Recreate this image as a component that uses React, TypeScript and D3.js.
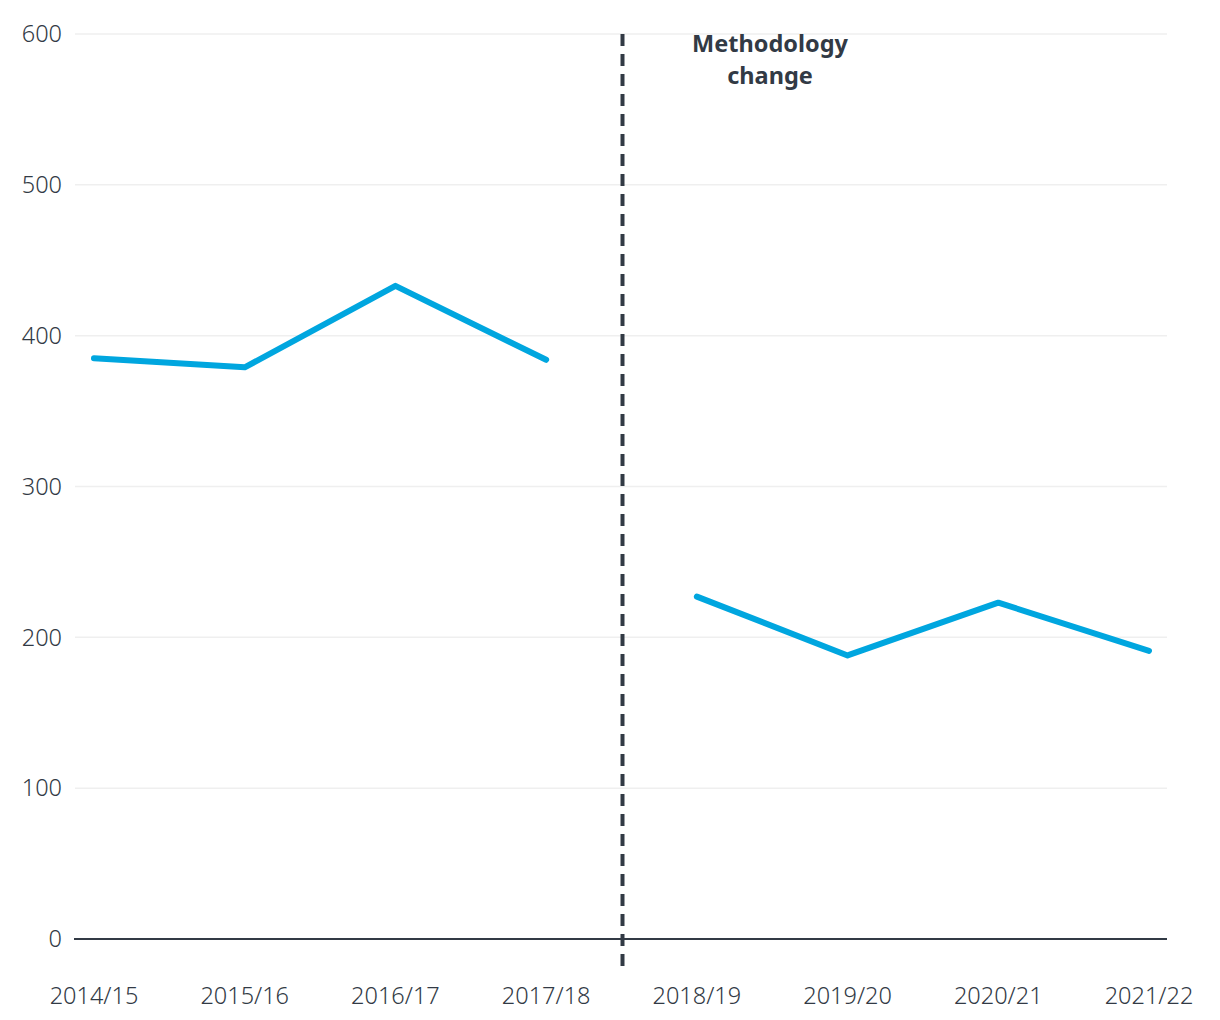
import React from "react";
import * as d3 from "d3";

const categories = ["2014/15", "2015/16", "2016/17", "2017/18", "2018/19", "2019/20", "2020/21", "2021/22"];
const beforeValues = [385, 379, 433, 384];
const afterValues = [227, 188, 223, 191];
const yTicks = [0, 100, 200, 300, 400, 500, 600];
const annotationLines = ["Methodology", "change"];

const W = 1220;
const H = 1020;
const FONT = "'Noto Sans', 'Open Sans', sans-serif";
const TEXT = "#323a45";

export default function App() {
  const x = d3.scalePoint<string>().domain(categories).range([94, 1149]);
  const y = d3.scaleLinear().domain([0, 600]).range([939, 34]);
  const line = d3
    .line<[string, number]>()
    .x((d) => x(d[0]) as number)
    .y((d) => y(d[1]));
  const before: [string, number][] = beforeValues.map((v, i) => [categories[i], v]);
  const after: [string, number][] = afterValues.map((v, i) => [categories[i + 4], v]);
  const breakX = ((x(categories[3]) as number) + (x(categories[4]) as number)) / 2 + 1;

  return (
    <svg width={W} height={H} style={{ position: "absolute", left: 0, top: 0, background: "#fff" }} fontFamily={FONT}>
      {yTicks.map((t) => (
        <g key={t}>
          {t !== 0 && <line x1={75} x2={1167} y1={y(t)} y2={y(t)} stroke="#efefef" strokeWidth={1.5} />}
          <text x={62} y={y(t)} dy="0.35em" textAnchor="end" fontSize={23.5} fontWeight={300} fill={TEXT}>
            {t}
          </text>
        </g>
      ))}
      <line x1={74} x2={1167} y1={y(0)} y2={y(0)} stroke={TEXT} strokeWidth={2} />
      <path d={line(before) || ""} fill="none" stroke="#00a6df" strokeWidth={6} strokeLinecap="round" strokeLinejoin="round" />
      <path d={line(after) || ""} fill="none" stroke="#00a6df" strokeWidth={6} strokeLinecap="round" strokeLinejoin="round" />
      <line x1={breakX} x2={breakX} y1={34} y2={970} stroke={TEXT} strokeWidth={4} strokeDasharray="12 8" />
      {annotationLines.map((s, i) => (
        <text key={s} x={770} y={52 + i * 32} textAnchor="middle" fontSize={23.5} fontWeight="bold" fill={TEXT}>
          {s}
        </text>
      ))}
      {categories.map((c) => (
        <text key={c} x={x(c) as number} y={1004} textAnchor="middle" fontSize={23.5} fontWeight={300} fill={TEXT}>
          {c}
        </text>
      ))}
    </svg>
  );
}
